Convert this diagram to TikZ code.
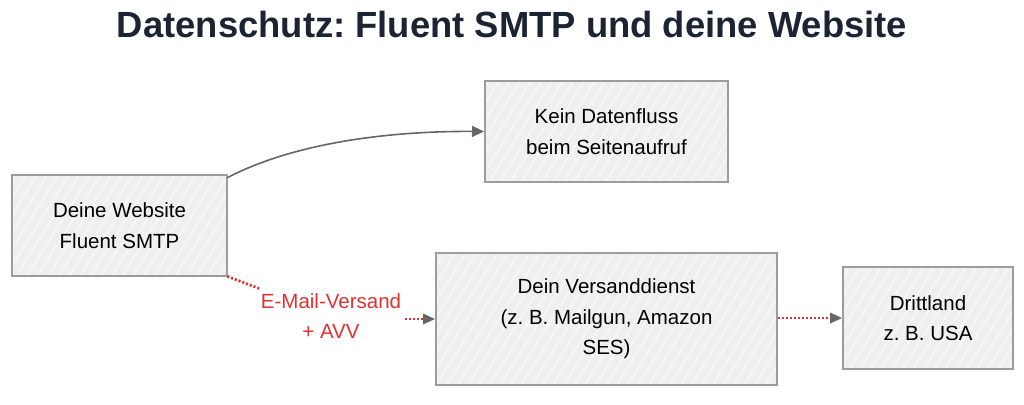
\documentclass[tikz,border=0pt]{standalone}
\usepackage{fontspec}
\setmainfont{Liberation Sans}
\usetikzlibrary{arrows.meta,patterns.meta}
\definecolor{titlecol}{HTML}{1C2333}
\definecolor{boxfill}{HTML}{EFEFEF}
\definecolor{boxline}{HTML}{9C9C9C}
\definecolor{arrgray}{HTML}{666666}
\definecolor{redcol}{HTML}{E03131}
\tikzset{
  box/.style={draw=boxline, line width=2pt, preaction={fill=boxfill},
    pattern={Lines[angle=58,distance=9pt,line width=0.7pt]}, pattern color=white,
    align=center, font=\fontsize{20.5}{30.5}\selectfont, text=black, inner sep=0pt},
  grayarrow/.style={draw=arrgray, line width=1.6pt, -{Triangle[length=12pt,width=11pt]}},
  redline/.style={draw=redcol, line width=2.8pt, dash pattern=on 2pt off 2pt},
  redarrow/.style={redline, -{Triangle[length=12pt,width=11pt,color=arrgray,line width=0pt]}},
  lbl/.style={text=redcol, align=center, font=\fontsize{20.5}{30.5}\selectfont, inner sep=4pt}
}
\begin{document}
\frenchspacing
\begin{tikzpicture}[x=1pt,y=-1pt]
\useasboundingbox (0,0) rectangle (1024,404);
\node[font=\bfseries\fontsize{36.4}{40}\selectfont, text=titlecol] (title) at (512,24) {Datenschutz: Fluent SMTP und deine Website};
\node[box, minimum width=215pt, minimum height=101pt] (web) at (119.5,225.5) {Deine Website\\Fluent SMTP};
\node[box, minimum width=243pt, minimum height=101pt] (kein) at (606.5,131.5) {Kein Datenfluss\\beim Seitenaufruf};
\node[box, minimum width=341pt, minimum height=132pt] (vers) at (606.5,319) {Dein Versanddienst\\(z. B. Mailgun, Amazon\\SES)};
\node[box, minimum width=170pt, minimum height=102pt] (dritt) at (928,318) {Drittland\\z. B. USA};
\node[lbl] (lab) at (331,316) {E-Mail-Versand\\+ AVV};
\draw[grayarrow] ([yshift=-3pt]web.north east) .. controls (300,140) and (400,131) .. (kein.west);
\draw[redline] (web.south east) -- (lab);
\draw[redarrow] (lab.east |- vers.west) -- (vers.west);
\draw[redarrow] (vers.east |- dritt.west) -- (dritt.west);
\end{tikzpicture}
\end{document}
